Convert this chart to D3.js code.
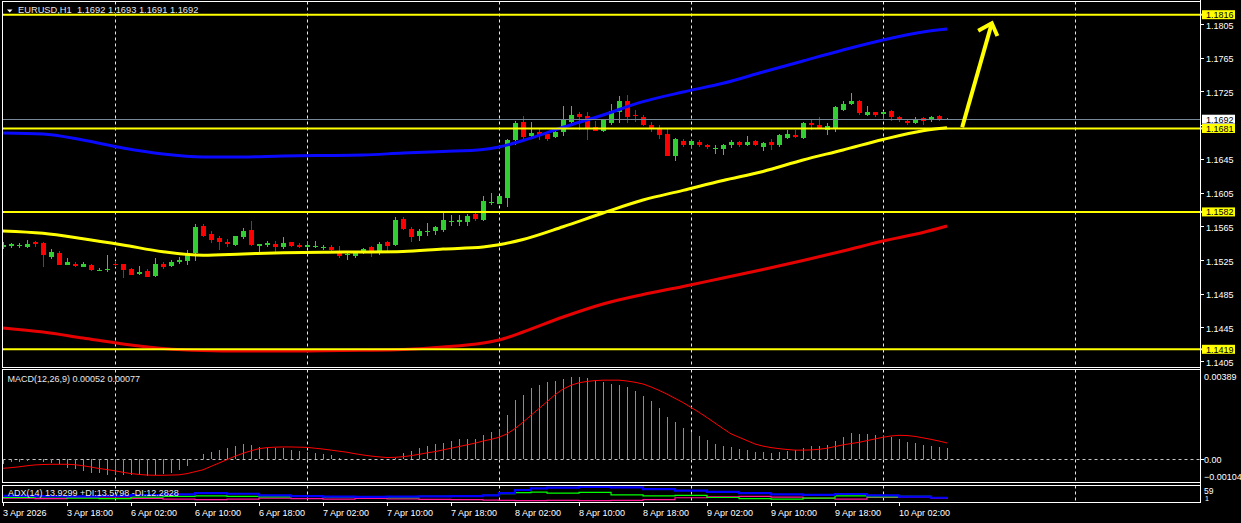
<!DOCTYPE html>
<html><head><meta charset="utf-8">
<script src="https://cdn.jsdelivr.net/npm/d3@7"></script>
<style>html,body{margin:0;padding:0;background:#000;overflow:hidden}svg{display:block}text{font-family:"Liberation Sans",Arial,sans-serif}</style>
</head><body><svg id="c" width="1241" height="523"></svg>
<script>
// ---------------- DATA ----------------
const symbolHeader = "EURUSD,H1\u00a0\u00a01.1692 1.1693 1.1691 1.1692";
const macdHeader = "MACD(12,26,9) 0.00052 0.00077";
const adxHeader = "ADX(14) 13.9299 +DI:13.5798 -DI:12.2828";

const open = [1.15398,1.15410,1.15410,1.15406,1.15461,1.15453,1.15287,1.15334,1.15196,1.15208,
1.15172,1.15192,1.15124,1.15132,1.15208,1.15200,1.15144,1.15089,1.15120,1.15057,
1.15204,1.15184,1.15228,1.15232,1.15330,1.15655,1.15560,1.15513,1.15469,1.15433,
1.15528,1.15608,1.15410,1.15422,1.15441,1.15398,1.15465,1.15430,1.15402,1.15406,
1.15398,1.15403,1.15360,1.15308,1.15292,1.15332,1.15399,1.15356,1.15458,1.15423,
1.15739,1.15621,1.15530,1.15585,1.15589,1.15609,1.15704,1.15696,1.15696,1.15791,
1.15720,1.15925,1.15917,1.15981,1.16677,1.16883,1.16716,1.16768,1.16748,1.16709,
1.16764,1.16891,1.16978,1.16954,1.16823,1.16776,1.16875,1.17001,1.17140,1.16966,
1.16942,1.16855,1.16807,1.16748,1.16487,1.16665,1.16618,1.16653,1.16617,1.16565,
1.16569,1.16617,1.16645,1.16617,1.16664,1.16593,1.16653,1.16617,1.16700,1.16735,
1.16692,1.16878,1.16854,1.16795,1.16819,1.17032,1.17103,1.17139,1.16973,1.17000,
1.16985,1.17020,1.16941,1.16902,1.16870,1.16937,1.16906,1.16961,1.16915];
const high = [1.15461,1.15457,1.15457,1.15489,1.15473,1.15461,1.15382,1.15358,1.15275,1.15228,
1.15220,1.15200,1.15156,1.15311,1.15239,1.15200,1.15152,1.15180,1.15140,1.15275,
1.15231,1.15251,1.15291,1.15370,1.15679,1.15679,1.15596,1.15536,1.15501,1.15536,
1.15631,1.15715,1.15445,1.15477,1.15477,1.15528,1.15467,1.15449,1.15477,1.15477,
1.15430,1.15431,1.15411,1.15352,1.15348,1.15391,1.15411,1.15462,1.15470,1.15755,
1.15755,1.15636,1.15621,1.15688,1.15656,1.15834,1.15787,1.15787,1.15795,1.15834,
1.16012,1.16044,1.16010,1.16689,1.16902,1.16962,1.16883,1.16815,1.16764,1.16804,
1.17080,1.17080,1.17009,1.17001,1.16895,1.16926,1.17104,1.17191,1.17211,1.17033,
1.16966,1.16883,1.16847,1.16804,1.16697,1.16689,1.16677,1.16676,1.16629,1.16609,
1.16625,1.16676,1.16664,1.16716,1.16676,1.16649,1.16688,1.16747,1.16795,1.16795,
1.16890,1.16914,1.16949,1.16878,1.17080,1.17139,1.17234,1.17142,1.17080,1.17008,
1.17020,1.17024,1.16961,1.16906,1.16949,1.16949,1.16961,1.16965,1.16930];
const low = [1.15382,1.15386,1.15386,1.15386,1.15398,1.15172,1.15263,1.15190,1.15192,1.15172,
1.15168,1.15124,1.15120,1.15113,1.15168,1.15041,1.15073,1.15077,1.15045,1.15049,
1.15148,1.15172,1.15208,1.15196,1.15243,1.15528,1.15457,1.15374,1.15398,1.15410,
1.15493,1.15410,1.15338,1.15402,1.15326,1.15378,1.15398,1.15386,1.15386,1.15390,
1.15370,1.15352,1.15272,1.15253,1.15272,1.15324,1.15280,1.15312,1.15352,1.15411,
1.15609,1.15458,1.15470,1.15530,1.15549,1.15577,1.15648,1.15648,1.15648,1.15708,
1.15708,1.15905,1.15910,1.15874,1.16610,1.16657,1.16709,1.16677,1.16657,1.16700,
1.16716,1.16835,1.16796,1.16677,1.16776,1.16764,1.16847,1.16871,1.16871,1.16883,
1.16835,1.16764,1.16685,1.16480,1.16420,1.16586,1.16578,1.16585,1.16561,1.16510,
1.16490,1.16573,1.16593,1.16601,1.16597,1.16538,1.16550,1.16585,1.16680,1.16700,
1.16680,1.16787,1.16800,1.16735,1.16763,1.17012,1.17092,1.16965,1.16961,1.16941,
1.16937,1.16894,1.16882,1.16850,1.16862,1.16846,1.16882,1.16894,1.16908];
const close = [1.15430,1.15437,1.15433,1.15445,1.15437,1.15303,1.15350,1.15196,1.15220,1.15184,
1.15208,1.15136,1.15136,1.15144,1.15196,1.15136,1.15077,1.15113,1.15049,1.15200,
1.15168,1.15228,1.15255,1.15330,1.15643,1.15540,1.15489,1.15465,1.15445,1.15532,
1.15596,1.15422,1.15441,1.15457,1.15398,1.15453,1.15410,1.15402,1.15430,1.15414,
1.15406,1.15364,1.15292,1.15324,1.15340,1.15383,1.15340,1.15443,1.15411,1.15727,
1.15621,1.15526,1.15597,1.15597,1.15636,1.15727,1.15716,1.15720,1.15775,1.15735,
1.15953,1.15941,1.16004,1.16677,1.16871,1.16709,1.16752,1.16728,1.16689,1.16764,
1.16914,1.16966,1.16942,1.16807,1.16784,1.16910,1.17013,1.17140,1.16942,1.16954,
1.16855,1.16807,1.16736,1.16487,1.16685,1.16610,1.16665,1.16617,1.16585,1.16577,
1.16617,1.16653,1.16617,1.16653,1.16609,1.16641,1.16617,1.16728,1.16747,1.16704,
1.16878,1.16854,1.16807,1.16842,1.17060,1.17103,1.17139,1.16989,1.17008,1.16973,
1.17008,1.16941,1.16906,1.16870,1.16925,1.16894,1.16949,1.16914,1.16920];

// moving averages read at these bar indices
const maBars = [0,5,10,15,20,25,30,35,40,45,50,55,60,62,65,70,75,80,85,90,95,100,105,110,115,118];
const maBlue = [1.16756,1.16745,1.16673,1.16578,1.16507,1.16472,1.16472,1.16484,1.16489,1.16495,1.16519,1.16537,1.16561,1.16590,1.16667,1.16824,1.16970,1.17128,1.17243,1.17346,1.17480,1.17611,1.17741,1.17860,1.17955,1.17990];
const maYellow = [1.15594,1.15566,1.15502,1.15428,1.15348,1.15306,1.15321,1.15336,1.15342,1.15344,1.15350,1.15380,1.15404,1.15431,1.15493,1.15644,1.15807,1.15961,1.16076,1.16193,1.16300,1.16436,1.16555,1.16680,1.16784,1.16819];
const maRed = [1.14443,1.14395,1.14324,1.14253,1.14200,1.14176,1.14170,1.14170,1.14172,1.14178,1.14188,1.14217,1.14265,1.14300,1.14395,1.14573,1.14728,1.14840,1.14935,1.15036,1.15137,1.15244,1.15356,1.15475,1.15576,1.15653];

const levels = [1.1816, 1.1681, 1.1582, 1.1419];
const bidPrice = 1.1692;
const priceTicks = [1.1405,1.1445,1.1485,1.1525,1.1565,1.1605,1.1645,1.1685,1.1725,1.1765,1.1805];

// MACD (units of 1e-5)
const macdMain = [-24,-13,-13,-8,-5,-13,-16,-21,-40,-47,-55,-63,-66,-73,-76,-76,-76,-76,-79,-76,
-71,-63,-51,-32,-3,24,35,44,51,63,71,66,60,55,55,51,44,40,35,28,
24,19,8,2,0,-1,-1,0,2,8,28,40,55,63,71,79,87,95,98,98,
114,130,145,209,280,303,335,352,363,371,379,389,389,385,375,365,358,352,343,324,
300,277,243,201,177,149,130,111,92,73,63,58,49,44,35,35,30,35,40,44,
54,63,63,68,87,106,125,120,120,115,111,106,96,82,77,68,63,58,52];
const macdSignal = [-43,-40,-36,-31,-27,-25,-24,-24,-24,-26,-31,-37,-44,-49,-55,-62,-68,-72,-75,-76,
-76,-75,-74,-68,-59,-50,-34,-18,-2,14,28,40,50,55,57,58,58,57,56,52,
48,43,38,33,26,20,15,11,8,9,12,17,23,30,36,44,52,60,68,76,
86,94,104,120,145,175,208,240,272,305,332,350,362,368,372,374,374,374,370,364,
356,342,326,308,288,268,245,222,197,171,145,120,104,88,72,62,55,50,46,43,
43,44,47,52,60,68,74,80,88,96,104,110,113,112,108,101,94,86,77];
const macdTicks = [0.00389, 0.00, -0.00104];

// ADX(14) read at these bar indices
const adxBars = [0,4,8,12,16,20,24,28,32,36,40,44,48,52,56,60,62,64,66,68,72,76,80,84,88,92,96,100,104,108,112,116,118];
const adxMain = [22,21,20,22,25,28,32,30,24,21,19,18,19,20,21,24,32,44,50,53,56,54,47,42,37,32,28,26,29,24,19,15,13.93];
const adxPlus = [16,18,14,12,17,20,22,20,18,21,17,19,15,20,22,24,30,34,36,32,35,26,22,24,16,12,10,14,22,18,20,16,13.58];
const adxMinus = [14,12,16,18,13,10,8,10,14,12,10,13,11,9,8,6,5,4,4,5,4,5,8,15,18,20,17,14,10,16,18,14,12.28];

const timeLabels = ["3 Apr 2026","3 Apr 18:00","6 Apr 02:00","6 Apr 10:00","6 Apr 18:00","7 Apr 02:00","7 Apr 10:00","7 Apr 18:00","8 Apr 02:00","8 Apr 10:00","8 Apr 18:00","9 Apr 02:00","9 Apr 10:00","9 Apr 18:00","10 Apr 02:00"];
const timeLabelBars = [0,8,16,24,32,40,48,56,64,72,80,88,96,104,112];
const dayStartBars = [14,38,62,86,110,134];

// arrow annotation (bar index, price)
const arrowFrom = [119.9, 1.16824], arrowTo = [123.6, 1.18058];
const arrowArmL = [121.9, 1.17970], arrowArmR = [124.3, 1.17907];

// ---------------- CHART ----------------
const svg = d3.select("#c");
const x = d3.scaleLinear().domain([0, 1]).range([3, 11]);
const yMain = d3.scaleLinear().domain([1.1419, 1.1816]).range([349.3, 14.7]);
const yMacd = d3.scaleLinear().domain([-0.00104, 0.00389]).range([481.2, 377]);
const yAdx = d3.scaleLinear().domain([1, 59]).range([501.5, 486]);

const P = {left: 2.5, right: 1200.5};
const panels = [
  {id: "main", top: 1.5, bottom: 367.5},
  {id: "macd", top: 369.5, bottom: 482.5},
  {id: "adx", top: 485.5, bottom: 502.5}
];
svg.append("rect").attr("width", 1241).attr("height", 523).attr("fill", "#000");
const defs = svg.append("defs");
panels.forEach(p => {
  defs.append("clipPath").attr("id", "clip-" + p.id).append("rect")
    .attr("x", P.left + 0.5).attr("y", p.top + 0.5)
    .attr("width", P.right - P.left - 1).attr("height", p.bottom - p.top - 1);
});

// grid (day separators)
panels.forEach(p => {
  svg.append("g").attr("clip-path", "url(#clip-" + p.id + ")")
    .selectAll("line").data(dayStartBars).join("line")
    .attr("x1", d => Math.round(x(d)) + 0.5).attr("x2", d => Math.round(x(d)) + 0.5)
    .attr("y1", p.top).attr("y2", p.bottom)
    .attr("stroke", "#e8e8e8").attr("stroke-width", 1).attr("stroke-dasharray", "3,3");
});

// ---- main panel ----
const gMain = svg.append("g").attr("clip-path", "url(#clip-main)");
const bars = d3.range(open.length).map(i => ({i, o: open[i], h: high[i], l: low[i], c: close[i]}));
const bull = "#32cd32", bear = "#ff0000";
const gc = gMain.append("g").attr("shape-rendering", "crispEdges");
gc.selectAll("line").data(bars).join("line")
  .attr("x1", d => Math.round(x(d.i)) + 0.5).attr("x2", d => Math.round(x(d.i)) + 0.5)
  .attr("y1", d => yMain(d.h)).attr("y2", d => yMain(d.l))
  .attr("stroke", d => d.c >= d.o ? bull : bear);
gc.selectAll("rect").data(bars).join("rect")
  .attr("x", d => Math.round(x(d.i)) - 2).attr("width", 5)
  .attr("y", d => Math.min(yMain(d.o), yMain(d.c)))
  .attr("height", d => Math.max(1, Math.abs(yMain(d.o) - yMain(d.c))))
  .attr("fill", d => d.c >= d.o ? bull : bear);

const maLine = d3.line().x(d => x(d[0])).y(d => yMain(d[1])).curve(d3.curveMonotoneX);
[[maRed, "#e60000"], [maYellow, "#ffff00"], [maBlue, "#0a0aff"]].forEach(([arr, col]) => {
  gMain.append("path").datum(maBars.map((b, k) => [b, arr[k]]))
    .attr("d", maLine).attr("fill", "none").attr("stroke", col).attr("stroke-width", 3);
});

// levels
gMain.selectAll("line.lvl").data(levels).join("line").attr("class", "lvl")
  .attr("x1", P.left).attr("x2", P.right)
  .attr("y1", d => yMain(d)).attr("y2", d => yMain(d))
  .attr("stroke", "#ffff00").attr("stroke-width", 2);
// bid line
gMain.append("line").attr("x1", P.left).attr("x2", P.right)
  .attr("y1", Math.round(yMain(bidPrice)) + 0.5).attr("y2", Math.round(yMain(bidPrice)) + 0.5)
  .attr("stroke", "#778899").attr("stroke-width", 1);

// arrow
const ap = ([b, v]) => [x(b), yMain(v)];
gMain.append("path")
  .attr("d", d3.line()([ap(arrowFrom), ap(arrowTo)]))
  .attr("stroke", "#ffff00").attr("stroke-width", 4).attr("fill", "none").attr("stroke-linecap", "butt");
gMain.append("path")
  .attr("d", d3.line()([ap(arrowArmL), ap(arrowTo), ap(arrowArmR)]))
  .attr("stroke", "#ffff00").attr("stroke-width", 4).attr("fill", "none").attr("stroke-linejoin", "miter");

// ---- MACD panel ----
const gMacd = svg.append("g").attr("clip-path", "url(#clip-macd)");
gMacd.append("line").attr("x1", P.left).attr("x2", 1241)
  .attr("y1", Math.round(yMacd(0)) + 0.5).attr("y2", Math.round(yMacd(0)) + 0.5)
  .attr("stroke", "#c8c8c8").attr("stroke-dasharray", "3,3");
gMacd.append("g").attr("shape-rendering", "crispEdges")
  .selectAll("line").data(macdMain).join("line")
  .attr("x1", (d, i) => Math.round(x(i)) + 0.5).attr("x2", (d, i) => Math.round(x(i)) + 0.5)
  .attr("y1", yMacd(0)).attr("y2", d => yMacd(d / 1e5))
  .attr("stroke", "#32cd32");
gMacd.append("path").datum(macdSignal)
  .attr("d", d3.line().x((d, i) => x(i)).y(d => yMacd(d / 1e5)))
  .attr("fill", "none").attr("stroke", "#ff0000").attr("stroke-width", 1);

// ---- ADX panel ----
const gAdx = svg.append("g").attr("clip-path", "url(#clip-adx)");
const adxLine = d3.line().x(d => x(d[0])).y(d => yAdx(d[1])).curve(d3.curveStepAfter);
[[adxMinus, "#ff1493", 1.2], [adxPlus, "#00ff00", 1.2], [adxMain, "#0000ff", 2.2]].forEach(([arr, col, w]) => {
  gAdx.append("path").datum(adxBars.map((b, k) => [b, arr[k]]))
    .attr("d", adxLine).attr("fill", "none").attr("stroke", col).attr("stroke-width", w);
});

// frames
panels.forEach(p => {
  svg.append("rect").attr("x", P.left).attr("y", p.top)
    .attr("width", P.right - P.left).attr("height", p.bottom - p.top)
    .attr("fill", "none").attr("stroke", "#ffffff").attr("stroke-width", 1);
});

// ---- right price axis ----
const axG = svg.append("g");
const fs = 9;
axG.selectAll("line.pt").data(priceTicks).join("line").attr("class", "pt")
  .attr("x1", 1200).attr("x2", 1204)
  .attr("y1", d => Math.round(yMain(d)) + 0.5).attr("y2", d => Math.round(yMain(d)) + 0.5)
  .attr("stroke", "#fff");
axG.selectAll("text.pt").data(priceTicks).join("text").attr("class", "pt")
  .attr("x", 1206).attr("y", d => yMain(d) + 4.6)
  .attr("font-size", fs).attr("fill", "#fff").text(d => d3.format(".4f")(d));
// bid label
axG.append("rect").attr("x", 1202).attr("y", yMain(bidPrice) - 4.5).attr("width", 33).attr("height", 9).attr("fill", "#fff");
axG.append("text").attr("x", 1206).attr("y", yMain(bidPrice) + 3.4).attr("font-size", fs).attr("fill", "#000").text(d3.format(".4f")(bidPrice));
// level labels
levels.forEach(v => {
  axG.append("line").attr("x1", 1200).attr("x2", 1203).attr("y1", yMain(v)).attr("y2", yMain(v)).attr("stroke", "#ffff00").attr("stroke-width", 2);
  axG.append("rect").attr("x", 1202).attr("y", yMain(v) - 4.5).attr("width", 33).attr("height", 9).attr("fill", "#ffff00");
  axG.append("text").attr("x", 1206).attr("y", yMain(v) + 3.4).attr("font-size", fs).attr("fill", "#000").text(d3.format(".4f")(v));
});
// MACD axis
const macdLabelY = [376.7, 459.3, 476.7];
macdTicks.forEach((v, k) => {
  axG.append("text").attr("x", 1204).attr("y", macdLabelY[k] + 3.4).attr("font-size", fs).attr("fill", "#fff")
    .text(v === 0 ? "0.00" : d3.format(".5f")(v));
});
axG.append("line").attr("x1", 1200).attr("x2", 1204).attr("y1", Math.round(yMacd(0)) + 0.5).attr("y2", Math.round(yMacd(0)) + 0.5).attr("stroke", "#fff");
// ADX axis
axG.append("text").attr("x", 1204).attr("y", 494).attr("font-size", 8.5).attr("fill", "#fff").text("59");
axG.append("text").attr("x", 1205).attr("y", 500.5).attr("font-size", 7).attr("fill", "#fff").text("1");
axG.append("line").attr("x1", 1200.5).attr("x2", 1200.5).attr("y1", 0).attr("y2", 503).attr("stroke", "#fff");

// ---- time axis ----
svg.append("line").attr("x1", P.left).attr("x2", P.right).attr("y1", 502.5).attr("y2", 502.5).attr("stroke", "#fff");
svg.selectAll("line.tt").data(timeLabelBars).join("line").attr("class", "tt")
  .attr("x1", d => Math.round(x(d)) + 0.5).attr("x2", d => Math.round(x(d)) + 0.5)
  .attr("y1", 502).attr("y2", 506).attr("stroke", "#fff");
svg.selectAll("text.tt").data(timeLabelBars).join("text").attr("class", "tt")
  .attr("x", d => Math.round(x(d))).attr("y", 515.5)
  .attr("font-size", fs).attr("fill", "#fff").text((d, k) => timeLabels[k]);

// ---- headers ----
svg.append("path").attr("d", "M7,9.5 L12.5,9.5 L9.75,12.5 Z").attr("fill", "#fff");
svg.append("text").attr("x", 18).attr("y", 13).attr("font-size", 9.3).attr("fill", "#e8e8e8").text(symbolHeader);
svg.append("text").attr("x", 7.5).attr("y", 381.5).attr("font-size", fs).attr("fill", "#e8e8e8").text(macdHeader);
svg.append("text").attr("x", 8).attr("y", 496).attr("font-size", fs).attr("fill", "#e8e8e8").text(adxHeader);
</script></body></html>
